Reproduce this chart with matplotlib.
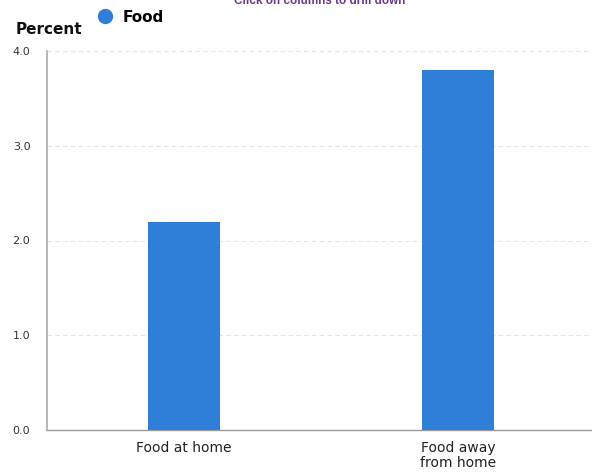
import matplotlib
matplotlib.use("Agg")
import matplotlib.pyplot as plt
from matplotlib.lines import Line2D

categories = ["Food at home", "Food away\nfrom home"]
values = [2.2, 3.8]
series_name = "Food"
yticks = [0.0, 1.0, 2.0, 3.0, 4.0]
ytick_labels = ["0.0", "1.0", "2.0", "3.0", "4.0"]

bar_color = "#2f7ed8"

plt.rcParams['font.family'] = ['Verdana', 'DejaVu Sans']
fig = plt.figure(figsize=(5.92, 4.72), dpi=100)
W, H = 592, 472
left, right, top, bottom = 47, 595, 51, 430
ax = fig.add_axes([left / W, 1 - bottom / H, (right - left) / W, (bottom - top) / H])

x = list(range(len(categories)))
ax.bar(x, values, width=0.263, color=bar_color, zorder=3)
ax.set_xlim(-0.5, len(categories) - 0.5)
ax.set_ylim(0, 4.0)
ax.set_yticks(yticks)
ax.set_yticklabels(ytick_labels, fontsize=8, color="#333333")
ax.set_xticks(x)
ax.set_xticklabels(categories, fontsize=10, color="#222222", linespacing=1.1)
ax.tick_params(axis="y", length=0, pad=12)
ax.tick_params(axis="x", length=0, pad=8)
ax.grid(axis="y", color="#e3e3e3", linestyle=(0, (4, 3)), linewidth=0.8, zorder=0)
for s in ["top", "right"]:
    ax.spines[s].set_visible(False)
ax.spines["left"].set_color("#aaaaaa")
ax.spines["bottom"].set_color("#999999")
ax.spines["left"].set_linewidth(1.2)
ax.spines["bottom"].set_linewidth(1.0)

fig.text(16 / W, 1 - 30 / H, "Percent", fontsize=11, fontweight="bold", color="#111111", va="center", ha="left", family=["DejaVu Sans"])
fig.text(320 / W, 1 - 1 / H, "Click on columns to drill down", fontsize=8.5, fontweight="bold", color="#6b3a8c", va="center", ha="center", family=["Liberation Sans"])

handle = Line2D([], [], marker="o", linestyle="none", markersize=10, color=bar_color)
fig.legend([handle], [series_name], loc="center left", bbox_to_anchor=(84 / W, 1 - 17 / H),
           frameon=False, handletextpad=0.1, prop={"weight": "bold", "size": 11}, borderaxespad=0)

fig.savefig("out.png", dpi=100)
